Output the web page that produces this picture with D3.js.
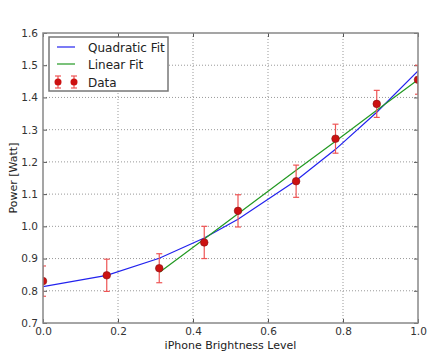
<!DOCTYPE html>
<html>
<head>
<meta charset="utf-8">
<script src="https://cdn.jsdelivr.net/npm/d3@7"></script>
<style>
  body { margin: 0; background: #fff; }
  text { font-family: "DejaVu Sans", sans-serif; fill: #222; }
</style>
</head>
<body>
<svg width="448" height="354"></svg>
<script>
var svg = d3.select('svg')

// brightness levels and measured power
var brightness = [0.0, 0.17, 0.31, 0.43, 0.52, 0.675, 0.78, 0.89, 1.0]
var power = [0.83, 0.848, 0.87, 0.95, 1.048, 1.14, 1.272, 1.38, 1.455]
var powerErr = [0.047, 0.05, 0.045, 0.05, 0.05, 0.05, 0.045, 0.042, 0.045]

// fitted curves at each brightness level
var quadFit = [0.813, 0.848, 0.901, 0.964, 1.022, 1.142, 1.239, 1.354, 1.482]
var linX = [0.31, 0.43, 0.52, 0.675, 0.78, 0.89, 1.0]
var linFit = [0.857, 0.961, 1.039, 1.174, 1.264, 1.36, 1.455]

var xTicks = [0, 0.2, 0.4, 0.6, 0.8, 1.0]
var yTicks = [0.7, 0.8, 0.9, 1.0, 1.1, 1.2, 1.3, 1.4, 1.5, 1.6]

var m = { left: 43, top: 33, right: 418, bottom: 323 }

var x = d3.scaleLinear().domain([0, 1]).range([m.left, m.right])
var y = d3.scaleLinear().domain([0.7, 1.6]).range([m.bottom, m.top])

svg.append('clipPath').attr('id', 'plot')
  .append('rect')
  .attr('x', m.left).attr('y', m.top)
  .attr('width', m.right - m.left).attr('height', m.bottom - m.top)

// grid
var grid = svg.append('g')
grid.selectAll('.gx').data(xTicks.slice(1, -1)).enter().append('line')
  .attr('x1', d => x(d)).attr('x2', d => x(d))
  .attr('y1', m.top).attr('y2', m.bottom)
grid.selectAll('.gy').data(yTicks.slice(1, -1)).enter().append('line')
  .attr('x1', m.left).attr('x2', m.right)
  .attr('y1', d => y(d)).attr('y2', d => y(d))
grid.selectAll('line')
  .style('stroke', '#999')
  .style('stroke-width', 1)
  .style('stroke-dasharray', '1,2')

// axes (ticks on all four sides, pointing inwards)
svg.append('g')
  .attr('transform', 'translate(0,' + m.bottom + ')')
  .call(d3.axisBottom(x).tickValues(xTicks).tickFormat(d3.format('.1f')).tickSizeInner(-4).tickSizeOuter(0).tickPadding(5))
svg.append('g')
  .attr('transform', 'translate(' + m.left + ',0)')
  .call(d3.axisLeft(y).tickValues(yTicks).tickFormat(d3.format('.1f')).tickSizeInner(-4).tickSizeOuter(0).tickPadding(5))
svg.append('g')
  .attr('transform', 'translate(0,' + m.top + ')')
  .call(d3.axisTop(x).tickValues(xTicks).tickFormat('').tickSizeInner(-4).tickSizeOuter(0))
svg.append('g')
  .attr('transform', 'translate(' + m.right + ',0)')
  .call(d3.axisRight(y).tickValues(yTicks).tickFormat('').tickSizeInner(-4).tickSizeOuter(0))
svg.selectAll('.domain').remove()
svg.selectAll('.tick line').style('stroke', '#555')
svg.selectAll('.tick text').style('font-size', '10.5px').style('fill', '#333')

var plot = svg.append('g').attr('clip-path', 'url(#plot)')

// fit lines
var quadLine = d3.line()
  .x(function (d, i) { return x(brightness[i]) })
  .y(function (d) { return y(d) })
var linLine = d3.line()
  .x(function (d, i) { return x(linX[i]) })
  .y(function (d) { return y(d) })

plot.append('path').attr('d', quadLine(quadFit))
  .style('fill', 'none').style('stroke', '#2222ee').style('stroke-width', 1.2)
plot.append('path').attr('d', linLine(linFit))
  .style('fill', 'none').style('stroke', '#229922').style('stroke-width', 1.2)

// error bars
var eb = plot.append('g').selectAll('g').data(power).enter().append('g')
  .style('stroke', '#ee5555').style('stroke-width', 1.2)
eb.append('line')
  .attr('x1', (d, i) => x(brightness[i])).attr('x2', (d, i) => x(brightness[i]))
  .attr('y1', (d, i) => y(d - powerErr[i])).attr('y2', (d, i) => y(d + powerErr[i]))
eb.append('line')
  .attr('x1', (d, i) => x(brightness[i]) - 3).attr('x2', (d, i) => x(brightness[i]) + 3)
  .attr('y1', (d, i) => y(d - powerErr[i])).attr('y2', (d, i) => y(d - powerErr[i]))
eb.append('line')
  .attr('x1', (d, i) => x(brightness[i]) - 3).attr('x2', (d, i) => x(brightness[i]) + 3)
  .attr('y1', (d, i) => y(d + powerErr[i])).attr('y2', (d, i) => y(d + powerErr[i]))

plot.append('g').selectAll('circle').data(power).enter().append('circle')
  .attr('cx', (d, i) => x(brightness[i]))
  .attr('cy', d => y(d))
  .attr('r', 3.8)
  .style('fill', '#cc1111')
  .style('stroke', '#881111').style('stroke-width', 0.6)

// frame
svg.append('rect')
  .attr('x', m.left).attr('y', m.top)
  .attr('width', m.right - m.left).attr('height', m.bottom - m.top)
  .style('fill', 'none').style('stroke', '#888').style('stroke-width', 1.5)

// axis labels
svg.append('text')
  .attr('x', (m.left + m.right) / 2).attr('y', 349)
  .attr('text-anchor', 'middle')
  .style('font-size', '11px')
  .text('iPhone Brightness Level')
svg.append('text')
  .attr('transform', 'translate(17,' + ((m.top + m.bottom) / 2) + ') rotate(-90)')
  .attr('text-anchor', 'middle')
  .style('font-size', '11px')
  .text('Power [Watt]')

// legend
var lg = svg.append('g')
lg.append('rect')
  .attr('x', 49).attr('y', 37).attr('width', 119).attr('height', 54)
  .style('fill', '#fff').style('stroke', '#777').style('stroke-width', 1.5)
var items = [
  { label: 'Quadratic Fit', color: '#2222ee', y: 47 },
  { label: 'Linear Fit', color: '#229922', y: 64 },
  { label: 'Data', color: '#cc1111', y: 82 }
]
items.forEach(function (it, i) {
  if (i < 2) {
    lg.append('line').attr('x1', 57).attr('x2', 75).attr('y1', it.y).attr('y2', it.y)
      .style('stroke', it.color).style('stroke-width', 1.2)
  } else {
    [58, 74].forEach(function (cx) {
      lg.append('line').attr('x1', cx).attr('x2', cx).attr('y1', it.y - 6).attr('y2', it.y + 6)
        .style('stroke', '#ee5555').style('stroke-width', 1.2)
      lg.append('line').attr('x1', cx - 3).attr('x2', cx + 3).attr('y1', it.y - 6).attr('y2', it.y - 6)
        .style('stroke', '#ee5555').style('stroke-width', 1.2)
      lg.append('line').attr('x1', cx - 3).attr('x2', cx + 3).attr('y1', it.y + 6).attr('y2', it.y + 6)
        .style('stroke', '#ee5555').style('stroke-width', 1.2)
      lg.append('circle').attr('cx', cx).attr('cy', it.y).attr('r', 3.5)
        .style('fill', it.color)
    })
  }
  lg.append('text').attr('x', 88).attr('y', it.y + 4.5)
    .style('font-size', '12px')
    .text(it.label)
})
</script>
</body>
</html>
